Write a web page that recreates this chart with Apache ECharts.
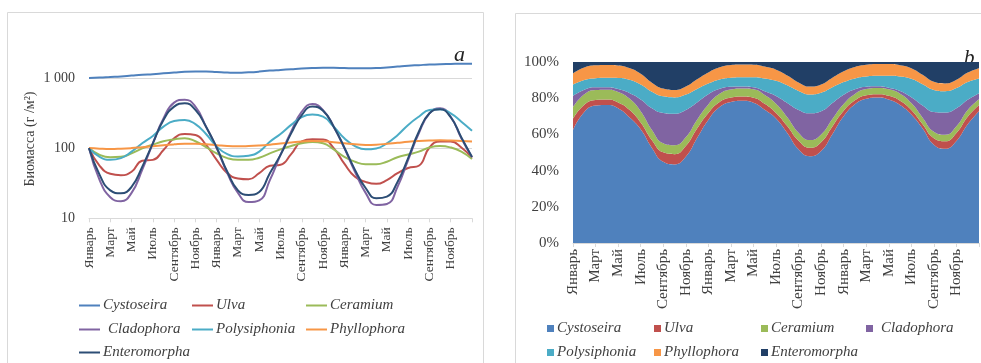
<!DOCTYPE html>
<html>
<head>
<meta charset="utf-8">
<script src="https://cdn.jsdelivr.net/npm/echarts@6/dist/echarts.min.js"></script>
<style>
  html, body { margin: 0; padding: 0; background: #fff; }
  #chart { width: 981px; height: 363px; }
</style>
</head>
<body>
<div id="chart"></div>
<script>
// Months of three years plus the following January
const monthNames = ['Январь', 'Февраль', 'Март', 'Апрель', 'Май', 'Июнь',
  'Июль', 'Август', 'Сентябрь', 'Октябрь', 'Ноябрь', 'Декабрь'];
const months = [].concat(monthNames, monthNames, monthNames, ['Январь']);

// Biomass, g/m², by species
const cystoseira = [1000, 1010, 1030, 1050, 1080, 1110, 1130, 1160, 1190, 1220, 1230, 1230,
  1210, 1190, 1180, 1200, 1230, 1270, 1300, 1330, 1360, 1380, 1390, 1390,
  1380, 1370, 1370, 1380, 1410, 1450, 1490, 1520, 1550, 1570, 1580, 1590, 1590];
const ulva = [100, 56, 43, 41, 46, 66, 68, 94, 138, 159, 154, 111,
  68, 44, 37, 36, 44, 56, 58, 82, 125, 134, 133, 100,
  60, 39, 33, 31, 35, 44, 52, 56, 102, 124, 124, 102, 73];
const ceramium = [100, 80, 74, 75, 84, 99, 112, 125, 133, 138, 125, 103,
  84, 72, 68, 68, 73, 84, 96, 107, 117, 122, 117, 96,
  75, 64, 59, 59, 64, 74, 81, 89, 102, 107, 102, 89, 70];
const cladophora = [100, 35, 20, 17.5, 23, 49, 117, 265, 445, 490, 390, 202,
  100, 44, 23, 17, 18, 35, 80, 171, 330, 425, 348, 202,
  100, 46, 23, 15.5, 16, 28, 68, 162, 313, 370, 280, 138, 74];
const polysiphonia = [100, 75, 68, 72, 89, 117, 149, 202, 243, 252, 220, 159,
  105, 82, 76, 78, 89, 123, 159, 214, 276, 300, 280, 202,
  138, 107, 96, 99, 117, 153, 214, 280, 348, 357, 313, 238, 177];
const phyllophora = [100, 98, 97, 98, 100, 103, 106, 110, 113, 115, 115, 113,
  110, 107, 106, 107, 109, 112, 116, 120, 124, 126, 125, 121,
  117, 113, 111, 112, 115, 119, 123, 126, 128, 129, 128, 126, 124];
const enteromorpha = [100, 41.5, 25, 22.7, 28, 54, 117, 252, 390, 435, 350, 202,
  102, 46, 25, 21.5, 23.7, 44, 80, 162, 296, 390, 340, 202,
  102, 49, 27, 19.3, 20.4, 33, 72, 171, 313, 357, 275, 142, 75];

const yTicksB = [0, 20, 40, 60, 80, 100];

const speciesNames = ['Cystoseira', 'Ulva', 'Ceramium', 'Cladophora', 'Polysiphonia', 'Phyllophora', 'Enteromorpha'];
const speciesData = [cystoseira, ulva, ceramium, cladophora, polysiphonia, phyllophora, enteromorpha];
const lineColors = ['#4F81BD', '#C0504D', '#9BBB59', '#8064A2', '#4BACC6', '#F79646', '#2C4D75'];
const areaColors = ['#4F81BD', '#C0504D', '#9BBB59', '#8064A2', '#4BACC6', '#F79646', '#213F66'];

// Share of each species in the total biomass, %
const totals = months.map((m, i) => speciesData.reduce((s, arr) => s + arr[i], 0));
const shares = speciesData.map(arr => arr.map((v, i) => v / totals[i] * 100));

const serif = 'Liberation Serif';
const textColor = '#404040';
const gridColor = '#d9d9d9';
const everyOther = (idx) => idx % 2 === 0 && idx < months.length - 1;

const chart = echarts.init(document.getElementById('chart'), null, { renderer: 'canvas' });

// Legend placement: [left, top] for panel a and panel b
const legendPosA = [[79, 298], [192, 298], [306, 298], [79, 322], [192, 322], [306, 322], [79, 345]];
const legendPosB = [[547, 321], [654, 321], [761, 321], [866, 321], [547, 345], [654, 345], [761, 345]];

const legends = [];
speciesNames.forEach((name, k) => {
  legends.push({
    data: [name], left: legendPosA[k][0], top: legendPosA[k][1], padding: 0,
    icon: 'rect', itemWidth: 21, itemHeight: 2, itemGap: 0,
    selectedMode: false,
    itemStyle: { borderWidth: 0 },
    textStyle: { fontFamily: serif, fontStyle: 'italic', fontSize: 15, color: textColor, padding: [0, 0, 0, name === 'Cladophora' ? 3 : -2] }
  });
  legends.push({
    data: [name], left: legendPosB[k][0], top: legendPosB[k][1], padding: 0,
    icon: 'rect', itemWidth: 7, itemHeight: 7, itemGap: 0,
    selectedMode: false,
    itemStyle: { borderWidth: 0, color: areaColors[k] },
    textStyle: { fontFamily: serif, fontStyle: 'italic', fontSize: 15, color: textColor, padding: [0, 0, 0, name === 'Cladophora' ? 3 : -2] }
  });
});

const series = [];
speciesNames.forEach((name, k) => {
  series.push({
    name: name, type: 'line', xAxisIndex: 0, yAxisIndex: 0,
    data: speciesData[k], smooth: true, showSymbol: false, symbol: 'none',
    color: lineColors[k],
    lineStyle: { width: 2, color: lineColors[k] },
    z: 3 + k
  });
});
speciesNames.forEach((name, k) => {
  series.push({
    name: name, type: 'line', xAxisIndex: 1, yAxisIndex: 1,
    stack: 'share', data: shares[k], smooth: true, showSymbol: false, symbol: 'none',
    color: areaColors[k],
    lineStyle: { width: 0 },
    areaStyle: { color: areaColors[k], opacity: 1 }
  });
});

const xAxisCommon = {
  type: 'category', data: months, boundaryGap: false,
  axisLine: { lineStyle: { color: gridColor, width: 1 } },
  axisTick: { show: true, interval: (idx) => idx % 2 === 0, length: 4, lineStyle: { color: gridColor } },
  splitLine: { show: false }
};

chart.setOption({
  animation: false,
  backgroundColor: '#ffffff',
  grid: [
    { left: 89, top: 44.4, width: 383, height: 173.9 },
    { left: 573, top: 62, width: 406, height: 181 }
  ],
  xAxis: [
    Object.assign({}, xAxisCommon, {
      gridIndex: 0,
      axisLabel: { interval: everyOther, rotate: 90, margin: 9, fontFamily: serif, fontSize: 13.5, color: textColor }
    }),
    Object.assign({}, xAxisCommon, {
      gridIndex: 1,
      axisLabel: { interval: everyOther, rotate: 90, margin: 6, fontFamily: serif, fontSize: 15, color: textColor }
    })
  ],
  yAxis: [
    {
      gridIndex: 0, type: 'log', logBase: 10, min: 10, max: 3000,
      axisLine: { show: false }, axisTick: { show: false },
      splitLine: { show: true, showMaxLine: false, lineStyle: { color: gridColor } },
      axisLabel: {
        showMaxLabel: false, margin: 14, fontFamily: serif, fontSize: 14, color: textColor,
        formatter: (v) => v >= 1000 ? String(v).replace(/(\d)(?=(\d{3})+$)/g, '$1 ') : String(v)
      }
    },
    {
      gridIndex: 1, type: 'value', min: yTicksB[0], max: yTicksB[yTicksB.length - 1], interval: 20,
      axisLine: { show: false }, axisTick: { show: false },
      splitLine: { show: false },
      axisLabel: { margin: 14, fontFamily: serif, fontSize: 15, color: textColor, formatter: '{value}%' }
    }
  ],
  legend: legends,
  graphic: [
    { type: 'rect', shape: { x: 7.5, y: 12.5, width: 476, height: 370 }, style: { fill: 'none', stroke: gridColor, lineWidth: 1 }, silent: true },
    { type: 'rect', shape: { x: 515.5, y: 13.5, width: 480, height: 370 }, style: { fill: 'none', stroke: gridColor, lineWidth: 1 }, silent: true },
    { type: 'text', x: 454, y: 44, style: { text: 'a', font: 'italic 22px "Liberation Serif"', fill: '#222', textBaseline: 'alphabetic' }, silent: true },
    { type: 'text', x: 964, y: 48, style: { text: 'b', font: 'italic 21px "Liberation Serif"', fill: '#222', textBaseline: 'alphabetic' }, silent: true },
    { type: 'text', x: 30, y: 139, rotation: Math.PI / 2,
      style: { text: 'Биомасса (г /м²)', font: '14px "Liberation Serif"', fill: textColor, align: 'center', verticalAlign: 'middle' }, silent: true }
  ],
  series: series
});
</script>
</body>
</html>
